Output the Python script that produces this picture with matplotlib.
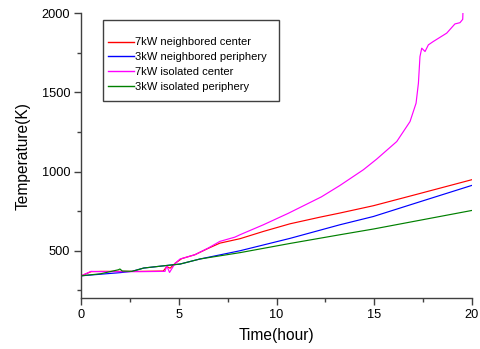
import matplotlib
matplotlib.use("Agg")
import matplotlib.pyplot as plt
from matplotlib.ticker import MultipleLocator
from matplotlib.patches import Rectangle

plt.rcParams['font.family'] = ['Liberation Sans', 'DejaVu Sans']

# 7kW neighbored center
red_x = [0, 0.5, 1, 2, 3, 4.2, 4.38, 4.55, 4.8, 5.14, 5.82, 6.5, 7.1, 7.87, 8.13, 9.33, 10.69, 12.23, 13.25, 14.96, 17.0, 20.0]
red_y = [342, 368, 370, 370, 370, 372, 400, 390, 420, 450, 475, 515, 548, 569, 576, 622, 670, 712, 738, 784, 850, 948]

# 3kW neighbored periphery
blue_x = [0, 1, 2, 2.6, 3.2, 4.37, 5.06, 6.08, 8.13, 10.69, 13.25, 14.96, 17.5, 20.0]
blue_y = [342, 352, 362, 370, 391, 407, 416, 448, 500, 578, 664, 716, 815, 912]

# 7kW isolated center
mag_x = [0, 0.5, 1, 2, 3, 4.29, 4.38, 4.52, 4.8, 5.06, 5.82, 6.5, 7.1, 7.87, 8.13, 9.33, 10.6, 12.3, 13.25, 14.45, 15.13, 16.16, 16.84, 17.15, 17.27, 17.35, 17.44, 17.61, 17.78, 18.03, 18.72, 19.14, 19.4, 19.54, 19.55]
mag_y = [342, 370, 368, 368, 368, 370, 405, 363, 420, 448, 475, 517, 559, 586, 601, 664, 736, 840, 912, 1011, 1078, 1189, 1315, 1431, 1557, 1725, 1778, 1757, 1799, 1820, 1873, 1931, 1939, 1960, 1998]

# 3kW isolated periphery
green_x = [0, 0, 1, 1.9, 1.98, 2.1, 2.6, 3.2, 4.37, 5.06, 6.08, 8.13, 10.69, 13.25, 14.96, 20.0]
green_y = [300, 342, 355, 380, 385, 372, 370, 391, 407, 416, 448, 488, 546, 601, 637, 754]

labels = ["7kW neighbored center", "3kW neighbored periphery",
          "7kW isolated center", "3kW isolated periphery"]

fig = plt.figure(figsize=(4.8, 3.49), dpi=100)
ax = fig.add_axes([81.3/480, 1-298.3/349, 390.4/480, 285.3/349])

lw = 0.85
ax.plot(red_x, red_y, color='#ff0000', lw=lw, label=labels[0])
ax.plot(blue_x, blue_y, color='#0000ff', lw=lw, label=labels[1])
ax.plot(mag_x, mag_y, color='#ff00ff', lw=lw, label=labels[2])
ax.plot(green_x, green_y, color='#008000', lw=lw, label=labels[3])

ax.set_xlim(0, 20)
ax.set_ylim(200, 2000)
ax.xaxis.set_major_locator(MultipleLocator(5))
ax.xaxis.set_minor_locator(MultipleLocator(2.5))
ax.yaxis.set_major_locator(MultipleLocator(500))
ax.yaxis.set_minor_locator(MultipleLocator(250))

for s in ['top', 'right']:
    ax.spines[s].set_visible(False)
for s in ['left', 'bottom']:
    ax.spines[s].set_color('#404040')
    ax.spines[s].set_linewidth(1.0)

ax.tick_params(which='major', direction='out', length=5, width=1.0, color='#404040',
               labelsize=9.2, pad=3)
ax.tick_params(which='minor', direction='out', length=3, width=1.0, color='#404040')

ax.set_xlabel("Time(hour)", fontsize=11.2, labelpad=5)
ax.set_ylabel("Temperature(K)", fontsize=11.2, labelpad=8)

leg = ax.legend(loc='upper left', bbox_to_anchor=(0.0676, 0.9145), borderaxespad=0,
                fontsize=8, handlelength=2.4, handletextpad=0.05, labelspacing=0.43,
                borderpad=0, frameon=False)
for l in leg.get_lines():
    l.set_linewidth(1.0)

# legend frame (Origin style: more space above the entries)
ax.add_patch(Rectangle((0.0556, 0.6916), 0.4508, 0.2839, transform=ax.transAxes,
                       fill=False, edgecolor='#404040', linewidth=1.0, zorder=4,
                       clip_on=False))

fig.savefig("out.png", dpi=100)
